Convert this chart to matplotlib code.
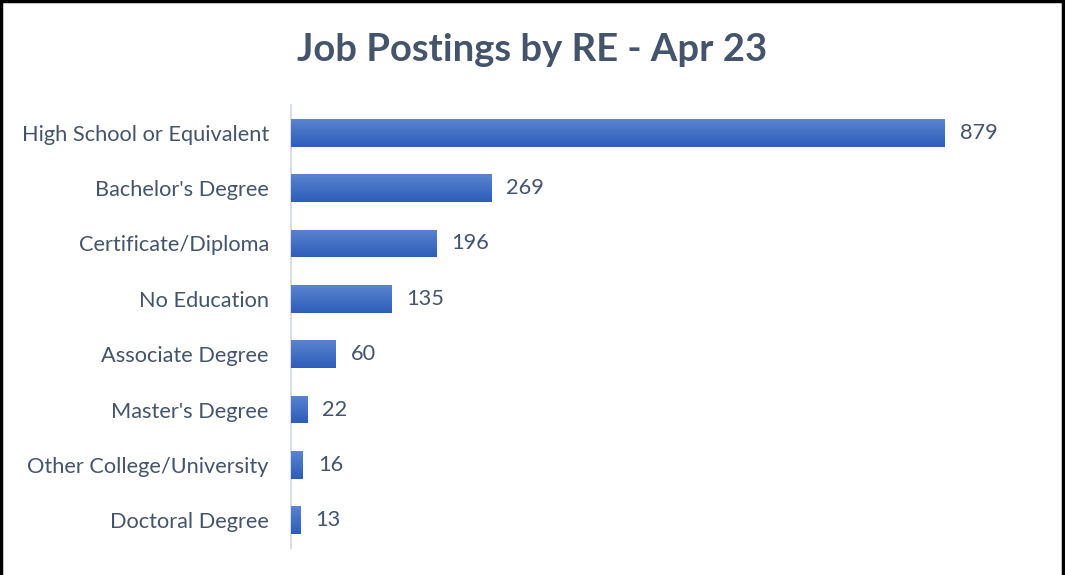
import matplotlib.pyplot as plt
import numpy as np
from matplotlib.colors import LinearSegmentedColormap

categories = ["High School or Equivalent", "Bachelor's Degree", "Certificate/Diploma",
              "No Education", "Associate Degree", "Master's Degree",
              "Other College/University", "Doctoral Degree"]
postings = [879, 269, 196, 135, 60, 22, 16, 13]

title = "Job Postings by RE - Apr 23"
text_color = "#44546A"

plt.rcParams['font.family'] = ['Lato', 'DejaVu Sans']

fig = plt.figure(figsize=(10.65, 5.75), dpi=100)
# plot area in pixels: x 291..1040, y 105..548 (from top)
ax = fig.add_axes([291 / 1065, (575 - 548) / 575, (1040 - 291) / 1065, (548 - 105) / 575])

y = np.arange(len(categories))
bars = ax.barh(y, postings, height=0.5, color="#4472C4", edgecolor="none", zorder=2)

# vertical gradient on each bar, lighter at the top
grad = LinearSegmentedColormap.from_list("bar", ["#5B84D0", "#2D5DBA"])
gimg = np.linspace(0, 1, 64).reshape(-1, 1)
for b in bars:
    x0, y0 = b.get_x(), b.get_y()
    w, h = b.get_width(), b.get_height()
    im = ax.imshow(gimg, cmap=grad, aspect="auto", origin="upper",
                   extent=[x0, x0 + w, y0 + h, y0], zorder=3)
    im.set_clip_path(b)

for yi, v in zip(y, postings):
    ax.text(v + 20, yi, str(v), va="center", ha="left", fontsize=15.7, color=text_color)

ax.set_xlim(0, 1007)
ax.set_ylim(len(categories) - 0.5, -0.5)
ax.set_yticks(y)
ax.set_yticklabels(categories, fontsize=15.7, color=text_color)
ax.tick_params(axis="y", length=0, pad=16)
ax.set_xticks([])

for s in ["top", "right", "bottom"]:
    ax.spines[s].set_visible(False)
ax.spines["left"].set_color("#D9DDE6")
ax.spines["left"].set_linewidth(1.5)

fig.text(532 / 1065, 1 - 50 / 575, title, ha="center", va="center",
         fontsize=27.5, fontweight="bold", color=text_color)

# outer frame: left, top, right (bottom is cut off)
fig.add_artist(plt.Line2D([0.001, 0.001], [0, 0.998], transform=fig.transFigure, color="black", lw=2.5))
fig.add_artist(plt.Line2D([0, 1], [0.998, 0.998], transform=fig.transFigure, color="black", lw=2.5))
fig.add_artist(plt.Line2D([0.9985, 0.9985], [0, 0.998], transform=fig.transFigure, color="black", lw=2.5))

fig.savefig("out.png", dpi=100)
